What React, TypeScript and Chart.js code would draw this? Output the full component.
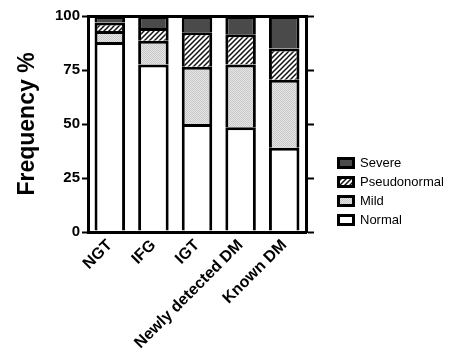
import React, { useEffect, useRef } from 'react';
import { Chart, registerables } from 'chart.js';

Chart.register(...registerables);

const categories = ['NGT', 'IFG', 'IGT', 'Newly detected DM', 'Known DM'];
const normal = [88, 77.5, 50, 48.5, 39];
const mild = [5, 11, 26.5, 29, 31.5];
const pseudonormal = [4, 6, 16, 14, 14.5];
const severe = [3, 5.5, 7.5, 8.5, 15];
const yMin = 0;
const yMax = 100;
const yStep = 25;

const FONT = "'Liberation Sans', Arial, Helvetica, sans-serif";

function makeHatch(): CanvasPattern | string {
  const c = document.createElement('canvas');
  c.width = 5;
  c.height = 5;
  const g = c.getContext('2d');
  if (!g) return '#888';
  g.fillStyle = '#ffffff';
  g.fillRect(0, 0, 5, 5);
  g.strokeStyle = '#111111';
  g.lineWidth = 1.5;
  g.beginPath();
  g.moveTo(-1, 6);
  g.lineTo(6, -1);
  g.moveTo(-3.5, 3.5);
  g.lineTo(3.5, -3.5);
  g.moveTo(1.5, 8.5);
  g.lineTo(8.5, 1.5);
  g.stroke();
  return g.createPattern(c, 'repeat') || '#888';
}

function makeDots(): CanvasPattern | string {
  const c = document.createElement('canvas');
  c.width = 2;
  c.height = 2;
  const g = c.getContext('2d');
  if (!g) return '#ddd';
  g.fillStyle = '#e6e6e6';
  g.fillRect(0, 0, 2, 2);
  g.fillStyle = '#c8c8c8';
  g.fillRect(0, 0, 1, 1);
  g.fillRect(1, 1, 1, 1);
  return g.createPattern(c, 'repeat') || '#ddd';
}

const legendPos = {
  id: 'legendPos',
  afterLayout(chart: any) {
    const l = chart.legend;
    if (!l) return;
    const dx = 332.5 - l.left;
    l.left += dx;
    l.right += dx;
    const h = l.bottom - l.top;
    l.top = 150.5;
    l.bottom = l.top + h;
  },
};

export default function App() {
  const ref = useRef<HTMLCanvasElement>(null);
  useEffect(() => {
    const canvas = ref.current;
    if (!canvas) return;
    const hatch = makeHatch();
    const dots = makeDots();
    const base = {
      borderColor: '#000000',
      borderWidth: 3,
      barPercentage: 0.7,
      categoryPercentage: 1,
    };
    const chart = new Chart(canvas, {
      type: 'bar',
      data: {
        labels: categories,
        datasets: [
          { label: 'Normal', data: normal, backgroundColor: '#ffffff', ...base },
          { label: 'Mild', data: mild, backgroundColor: dots, ...base },
          { label: 'Pseudonormal', data: pseudonormal, backgroundColor: hatch, ...base },
          { label: 'Severe', data: severe, backgroundColor: '#4a4a4a', ...base },
        ] as any,
      },
      options: {
        animation: false,
        responsive: false,
        layout: { padding: { top: 16, right: 10, bottom: 0, left: 0 } },
        plugins: {
          legend: {
            position: 'right',
            reverse: true,
            align: 'start',
            maxWidth: 200,
            labels: {
              boxWidth: 15,
              boxHeight: 9,
              padding: 6,
              color: '#000000',
              font: { family: FONT, size: 13 },
            },
          },
          tooltip: { enabled: false },
        },
        scales: {
          x: {
            stacked: true,
            grid: { display: false, drawTicks: false },
            border: { display: true, color: '#000000', width: 3 },
            ticks: {
              color: '#000000',
              font: { family: FONT, size: 16, weight: 'bold' },
              maxRotation: 45,
              minRotation: 45,
              autoSkip: false,
              padding: 4,
            },
            afterFit: (s: any) => {
              s.height = 129;
            },
          },
          y: {
            stacked: true,
            min: yMin,
            max: yMax,
            ticks: {
              stepSize: yStep,
              color: '#000000',
              padding: 2,
              font: { family: FONT, size: 15, weight: 'bold' },
            },
            grid: {
              color: (ctx: any) => (ctx.tick && ctx.tick.value === yMax ? '#000000' : 'rgba(0,0,0,0)'),
              lineWidth: 3,
              tickLength: 6,
              tickWidth: 2,
              tickColor: '#000000',
            },
            border: { display: true, color: '#000000', width: 3 },
            title: {
              display: true,
              text: 'Frequency %',
              color: '#000000',
              font: { family: FONT, size: 23, weight: 'bold' },
              padding: { top: 14, bottom: 0 },
            },
            afterFit: (s: any) => {
              s.width = 88;
            },
          },
          y2: {
            position: 'right',
            min: yMin,
            max: yMax,
            ticks: { stepSize: yStep, display: false },
            grid: {
              drawOnChartArea: false,
              tickLength: 8,
              tickWidth: 2,
              tickColor: '#000000',
              color: '#000000',
            },
            border: { display: true, color: '#000000', width: 3 },
            afterFit: (s: any) => {
              s.width = s.chart.width - 10 - s.chart.legend.width - 306;
            },
          },
        },
      } as any,
      plugins: [legendPos],
    });
    return () => chart.destroy();
  }, []);
  return (
    <div style={{ position: 'fixed', left: 0, top: 0, width: 463, height: 361, background: '#fff' }}>
      <canvas ref={ref} width={463} height={361} style={{ display: 'block' }} />
    </div>
  );
}
